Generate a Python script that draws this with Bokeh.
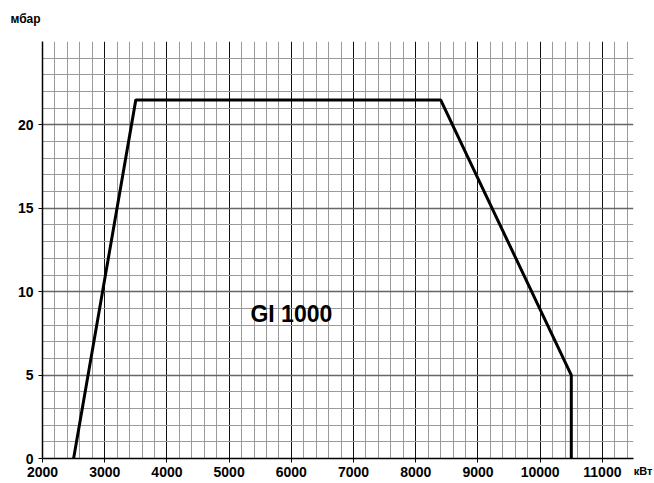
from bokeh.plotting import figure
from bokeh.models import FixedTicker, Label, Range1d
from bokeh.embed import file_html
from bokeh.resources import INLINE

# --- data ---
power_kw = [2500, 3500, 8400, 10500, 10500]
pressure_mbar = [0, 21.5, 21.5, 5, 0]
x_ticks = [2000, 3000, 4000, 5000, 6000, 7000, 8000, 9000, 10000, 11000]
y_ticks = [0, 5, 10, 15, 20]
x_minor = [v for v in range(2200, 11500, 200) if v % 1000 != 0]
y_minor = [v for v in range(1, 25) if v % 5 != 0]
model_label = "GI 1000"
y_unit = "мбар"
x_unit = "кВт"

FONT = "Liberation Sans"

p = figure(width=654, height=483, output_backend="svg", toolbar_location=None,
           x_range=Range1d(2000, 11500), y_range=Range1d(0, 25),
           min_border_left=42, min_border_right=21, min_border_top=41, min_border_bottom=25)
p.outline_line_color = None
p.background_fill_color = "white"

# grid
p.xgrid.ticker = FixedTicker(ticks=x_ticks, minor_ticks=x_minor)
p.ygrid.ticker = FixedTicker(ticks=y_ticks, minor_ticks=y_minor)
p.xgrid.grid_line_color = "#111111"
p.xgrid.grid_line_width = 1
p.ygrid.grid_line_color = "#666666"
p.ygrid.grid_line_width = 1.5
for g in (p.xgrid, p.ygrid):
    g.minor_grid_line_color = "#9a9a9a"
    g.minor_grid_line_width = 1

# axes
p.xaxis.ticker = FixedTicker(ticks=x_ticks)
p.yaxis.ticker = FixedTicker(ticks=y_ticks)
for ax in (p.xaxis, p.yaxis):
    ax.axis_line_color = "black"
    ax.axis_line_width = 1.5
    ax.major_tick_line_color = "black"
    ax.major_tick_in = 0
    ax.major_tick_out = 4
    ax.minor_tick_line_color = None
    ax.major_label_text_font = FONT
    ax.major_label_text_font_style = "bold"
    ax.major_label_text_font_size = "14px"
    ax.major_label_text_color = "black"
p.xaxis.major_label_standoff = 4
p.yaxis.major_label_standoff = 5

# curve
p.line(power_kw, pressure_mbar, line_color="black", line_width=3)

# labels
p.add_layout(Label(x=6000, y=8.65, text=model_label, text_font=FONT, text_font_style="bold",
                   text_font_size="23px", text_align="center", text_baseline="middle",
                   text_color="black"))
p.add_layout(Label(x=1727, y=26.35, text=y_unit, text_font=FONT, text_font_style="bold",
                   text_font_size="12px", text_align="center", text_baseline="middle",
                   text_color="black"), "above")
p.add_layout(Label(x=11505, y=-0.75, text=x_unit, text_font=FONT, text_font_style="bold",
                   text_font_size="11px", text_align="left", text_baseline="middle",
                   text_color="black"), "right")

open("out.html", "w").write(file_html(p, INLINE))
